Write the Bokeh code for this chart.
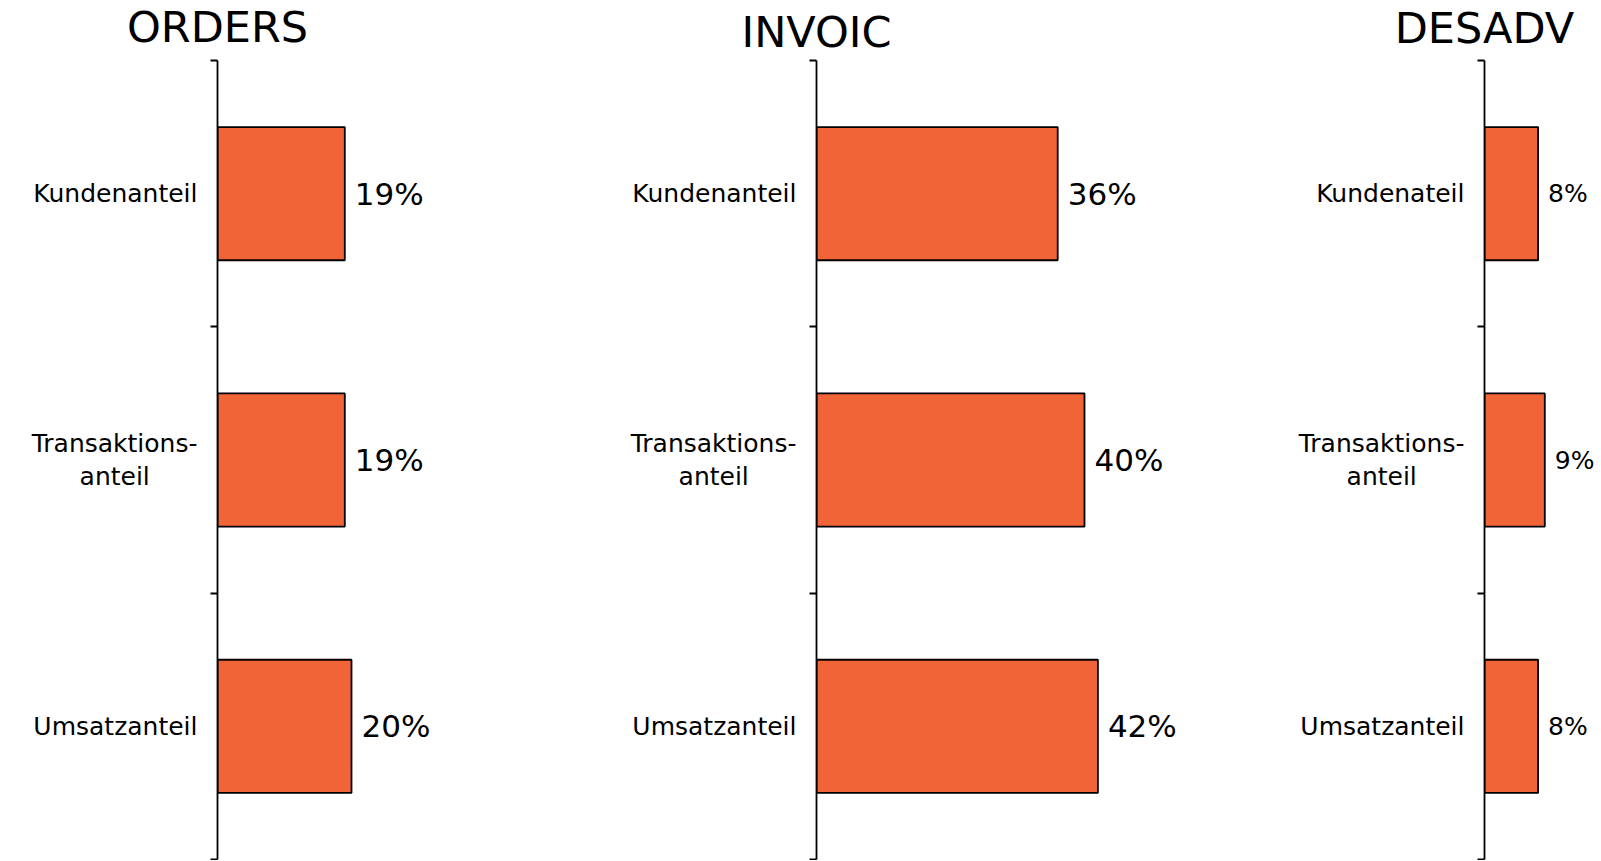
from bokeh.plotting import figure
from bokeh.layouts import row, column
from bokeh.models import Range1d, LinearAxis, FixedTicker, ColumnDataSource
from bokeh.core.properties import value
from bokeh.embed import file_html
from bokeh.resources import INLINE

titles = ["ORDERS", "INVOIC", "DESADV"]
NB = "\u00a0" * 6
orders_categories = ["Kundenanteil", "Transaktions-\nanteil" + NB, "Umsatzanteil"]
orders_values = [19, 19, 20]
invoic_categories = ["Kundenanteil", "Transaktions-\nanteil" + NB, "Umsatzanteil"]
invoic_values = [36, 40, 42]
desadv_categories = ["Kundenateil", "Transaktions-\nanteil" + NB, "Umsatzanteil"]
desadv_values = [8, 9, 8]

FONT = value("DejaVu Sans")
BAR = "#F06437"
PX_PER_PCT = 6.7
TITLE_H = 56
PANEL_H = 804


def title_fig(title, border_left, frame_w, mid):
    t = figure(width=border_left + frame_w, height=TITLE_H, title=None,
               x_range=Range1d(-border_left / PX_PER_PCT, frame_w / PX_PER_PCT),
               y_range=Range1d(0, 1),
               output_backend="svg", toolbar_location=None,
               x_axis_location=None, y_axis_location=None,
               min_border=0, outline_line_color=None,
               background_fill_color=None, border_fill_color=None)
    t.grid.grid_line_color = None
    t.text(x=[0], y=[0], text=[title], y_offset=mid - TITLE_H,
           text_align="center", text_baseline="middle",
           text_font=FONT, text_font_size="43px", text_color="black")
    return t


def panel(cats, vals, border_left, frame_w, frame_top, value_size):
    n = len(cats)
    p = figure(width=border_left + frame_w, height=PANEL_H, title=None,
               x_range=Range1d(0, frame_w / PX_PER_PCT), y_range=Range1d(n, 0),
               output_backend="svg", toolbar_location=None,
               x_axis_location=None, y_axis_location=None,
               min_border_left=border_left, min_border_right=0,
               min_border_top=frame_top, min_border_bottom=1,
               outline_line_color=None, background_fill_color=None,
               border_fill_color=None)
    p.grid.grid_line_color = None
    ys = [i + 0.5 for i in range(n)]
    src = ColumnDataSource(dict(y=ys, v=vals, lab=[f"{v}%" for v in vals]))
    p.hbar(y="y", left=0, right="v", height=0.5, source=src,
           fill_color=BAR, line_color="black", line_width=1.8)
    p.text(x="v", y="y", text="lab", source=src, x_offset=10,
           text_baseline="middle", text_align="left", text_font=FONT,
           text_font_size=value_size, text_color="black")
    axis = LinearAxis(
        ticker=FixedTicker(ticks=ys, minor_ticks=list(range(n + 1))),
        major_label_overrides={y: c for y, c in zip(ys, cats)},
        major_tick_out=0, major_tick_in=0,
        minor_tick_out=7, minor_tick_in=0,
        minor_tick_line_color="black", minor_tick_line_width=1.8,
        axis_line_color="black", axis_line_width=1.8,
        major_label_standoff=13,
        major_label_text_font="DejaVu Sans",
        major_label_text_font_size="25px",
        major_label_text_color="black",
        major_label_text_line_height=1.15,
    )
    p.add_layout(axis, "left")
    return p


# (border_left, frame_width, frame_top_in_panel, title_middle)
cfg = [(217, 373, 4, 26), (226, 444, 1, 31), (224, 117, 1, 27)]
datasets = [(orders_categories, orders_values, "31px"),
            (invoic_categories, invoic_values, "31px"),
            (desadv_categories, desadv_values, "25px")]

tops, panels = [], []
for title, (bl, fw, ft, tm), (cats, vals, vs) in zip(titles, cfg, datasets):
    tops.append(title_fig(title, bl, fw, tm))
    panels.append(panel(cats, vals, bl, fw, ft, vs))

layout = column(row(*tops, spacing=0), row(*panels, spacing=0), spacing=0)
open("out.html", "w").write(file_html(layout, INLINE))
